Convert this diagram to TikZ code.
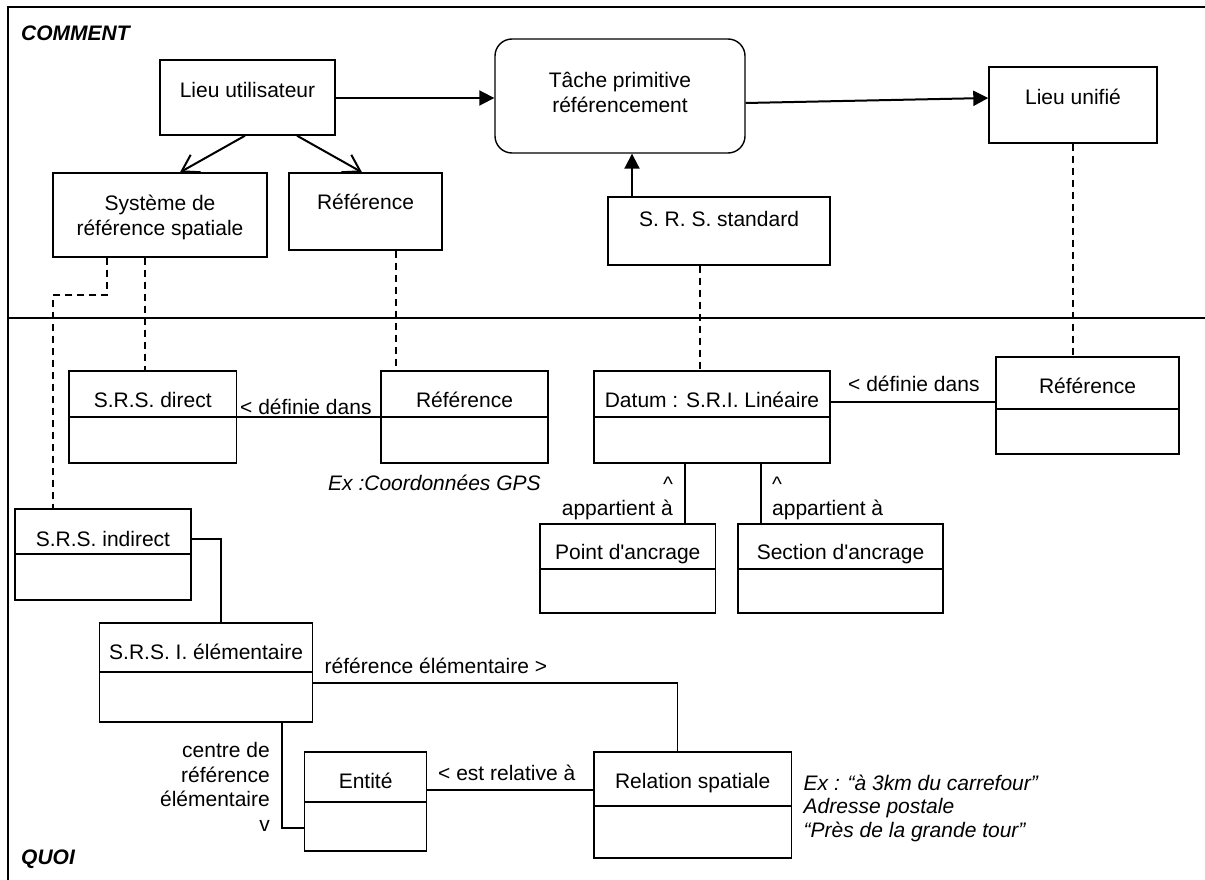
\documentclass[tikz,border=0pt]{standalone}
\usepackage{fontspec}
\setmainfont{Liberation Sans}[Ligatures=TeXOff]
\usetikzlibrary{arrows.meta}
\begin{document}
\begin{tikzpicture}[x=1pt,y=-1pt,
  box/.style={draw, line width=1.4pt, inner sep=0pt},
  txt/.style={inner sep=0pt, anchor=base, font=\fontsize{21}{24}\selectfont},
  etxt/.style={txt, anchor=base east},
  wtxt/.style={txt, anchor=base west},
  itxt/.style={wtxt, font=\fontsize{21}{24}\selectfont\itshape},
  ttl/.style={wtxt, font=\fontsize{21}{24}\selectfont\bfseries\itshape},
  arr/.style={line width=2pt, -{Triangle[length=15pt,width=15pt]}},
  barb/.style={line width=2pt, -{Straight Barb[length=16pt,width=20pt]}},
  link/.style={line width=1.4pt},
  dsh/.style={line width=1.3pt, dash pattern=on 7pt off 5pt},
  frame/.style={line width=1.6pt}]
\useasboundingbox (0,0) rectangle (1205,880);
\clip (0,0) rectangle (1205,880);
% frame and divider
\draw[frame] (8,900) -- (8,7) -- (1220,7);
\draw[frame] (8,318) -- (1220,318);
\node[ttl] (comment) at (21,41) {COMMENT};
\node[ttl] (quoi) at (21,864) {QUOI};

% ---------- COMMENT part ----------
\node[box, minimum width=175pt, minimum height=75pt] (lu) at (247.5,97.5) {};
\node[txt] (lut) at (247.5,97.5) {Lieu utilisateur};

\node[box, rounded corners=17pt, minimum width=250pt, minimum height=114pt] (tache) at (620,96) {};
\node[txt] (tachet1) at (620,87.5) {Tâche primitive};
\node[txt] (tachet2) at (620,113) {référencement};

\node[box, minimum width=168pt, minimum height=76pt] (lun) at (1073,105) {};
\node[txt] (lunt) at (1073,105) {Lieu unifié};

\node[box, minimum width=214pt, minimum height=84pt] (sys) at (160,215) {};
\node[txt] (syst1) at (160,211) {Système de};
\node[txt] (syst2) at (160,235) {référence spatiale};

\node[box, minimum width=153pt, minimum height=77pt] (reft) at (365.5,211.5) {};
\node[txt] (reftt) at (365.5,209.5) {Référence};

\node[box, minimum width=222pt, minimum height=68pt] (srs) at (719,231) {};
\node[txt] (srst) at (719,226) {S. R. S. standard};

\draw[arr] (lu.east |- 0,98) -- (tache.west |- 0,98);
\draw[arr] (tache.east |- 0,103) -- (lun.west |- 0,98);
\draw[arr] (srs.north -| 632,0) -- (tache.south -| 632,0);
\draw[barb] (lu.south -| 245,0) -- (sys.north -| 180,0);
\draw[barb] (lu.south -| 297,0) -- (reft.north -| 362,0);

% ---------- QUOI part ----------
\node[box, minimum width=167.5pt, minimum height=92pt] (direct) at (152.75,417) {};
\draw[link] (direct.west |- 0,417) -- (direct.east |- 0,417);
\node[txt] (directt) at (152.75,407.5) {S.R.S. direct};

\node[box, minimum width=167pt, minimum height=92pt] (refm) at (464.5,417) {};
\draw[link] (refm.west |- 0,417) -- (refm.east |- 0,417);
\node[txt] (refmt) at (464.5,407.5) {Référence};

\node[box, minimum width=236pt, minimum height=92pt] (datum) at (712,417) {};
\draw[link] (datum.west |- 0,417) -- (datum.east |- 0,417);
\node[txt] (datumt) at (712,407.5) {Datum : S.R.I. Linéaire};

\node[box, minimum width=183pt, minimum height=97pt] (refr) at (1087.5,405.5) {};
\draw[link] (refr.west |- 0,409) -- (refr.east |- 0,409);
\node[txt] (refrt) at (1087.5,393.5) {Référence};

\node[box, minimum width=176pt, minimum height=91pt] (indirect) at (103,554.5) {};
\draw[link] (indirect.west |- 0,554) -- (indirect.east |- 0,554);
\node[txt] (indirectt) at (103,546) {S.R.S. indirect};

\node[box, minimum width=175.5pt, minimum height=89pt] (point) at (627.75,568.5) {};
\draw[link] (point.west |- 0,569) -- (point.east |- 0,569);
\node[txt] (pointt) at (627.75,559) {Point d'ancrage};

\node[box, minimum width=205pt, minimum height=89pt] (section) at (840.5,568.5) {};
\draw[link] (section.west |- 0,569) -- (section.east |- 0,569);
\node[txt] (sectiont) at (840.5,559) {Section d'ancrage};

\node[box, minimum width=213.2pt, minimum height=99pt] (elem) at (206.1,672.5) {};
\draw[link] (elem.west |- 0,672) -- (elem.east |- 0,672);
\node[txt] (elemt) at (206.1,659) {S.R.S. I. élémentaire};

\node[box, minimum width=122.1pt, minimum height=99pt] (entite) at (365.65,801.5) {};
\draw[link] (entite.west |- 0,802) -- (entite.east |- 0,802);
\node[txt] (entitet) at (365.65,788.5) {Entité};

\node[box, minimum width=197.4pt, minimum height=106pt] (relation) at (692.7,805) {};
\draw[link] (relation.west |- 0,806) -- (relation.east |- 0,806);
\node[txt] (relationt) at (692.7,788.5) {Relation spatiale};

% dashed links between levels
\coordinate (bend) at (53,295);
\draw[dsh] (sys.south -| 145,0) -- (direct.north -| 145,0);
\draw[dsh] (sys.south -| 107,0) |- (bend) -- (indirect.north -| bend);
\draw[dsh] (reft.south -| 396,0) -- (refm.north -| 396,0);
\draw[dsh] (srs.south -| 700,0) -- (datum.north -| 700,0);
\draw[dsh] (lun.south) -- (refr.north -| lun.south);

% associations
\draw[link] (direct.east) -- (refm.west);
\node[wtxt] (def1) at (240,414) {< définie dans};
\node[itxt] (exgps) at (328,490) {Ex :Coordonnées GPS};

\draw[link] (datum.east |- 0,402) -- (refr.west |- 0,402);
\node[wtxt] (def2) at (848,391) {< définie dans};

\draw[link] (datum.south -| 685,0) -- (point.north -| 685,0);
\draw[link] (datum.south -| 761,0) -- (section.north -| 761,0);
\node[txt] (car1) at (668,491) {\^{}};
\node[etxt] (app1) at (673,515.5) {appartient à};
\node[txt] (car2) at (777,491) {\^{}};
\node[wtxt] (app2) at (772,515.5) {appartient à};

\draw[link] (indirect.east |- 0,539) -| (elem.north -| 221,0);

\draw[link] (elem.east |- 0,683) -| (relation.north -| 677.5,0);
\node[wtxt] (refel) at (324.5,673.5) {référence élémentaire >};

\draw[link] (elem.south -| 282,0) |- (entite.west |- 0,828);
\node[etxt] (cr1) at (270,757.5) {centre de};
\node[etxt] (cr2) at (270,782) {référence};
\node[etxt] (cr3) at (270,806.5) {élémentaire};
\node[etxt] (cr4) at (270,831) {v};

\draw[link] (entite.east |- 0,790) -- (relation.west |- 0,790);
\node[wtxt] (estrel) at (438,780.5) {< est relative à};

\node[itxt] (ex1) at (803.5,790) {Ex : “à 3km du carrefour”};
\node[itxt] (ex2) at (803.5,813.5) {Adresse postale};
\node[itxt] (ex3) at (803.5,837.5) {“Près de la grande tour”};
\end{tikzpicture}
\end{document}
